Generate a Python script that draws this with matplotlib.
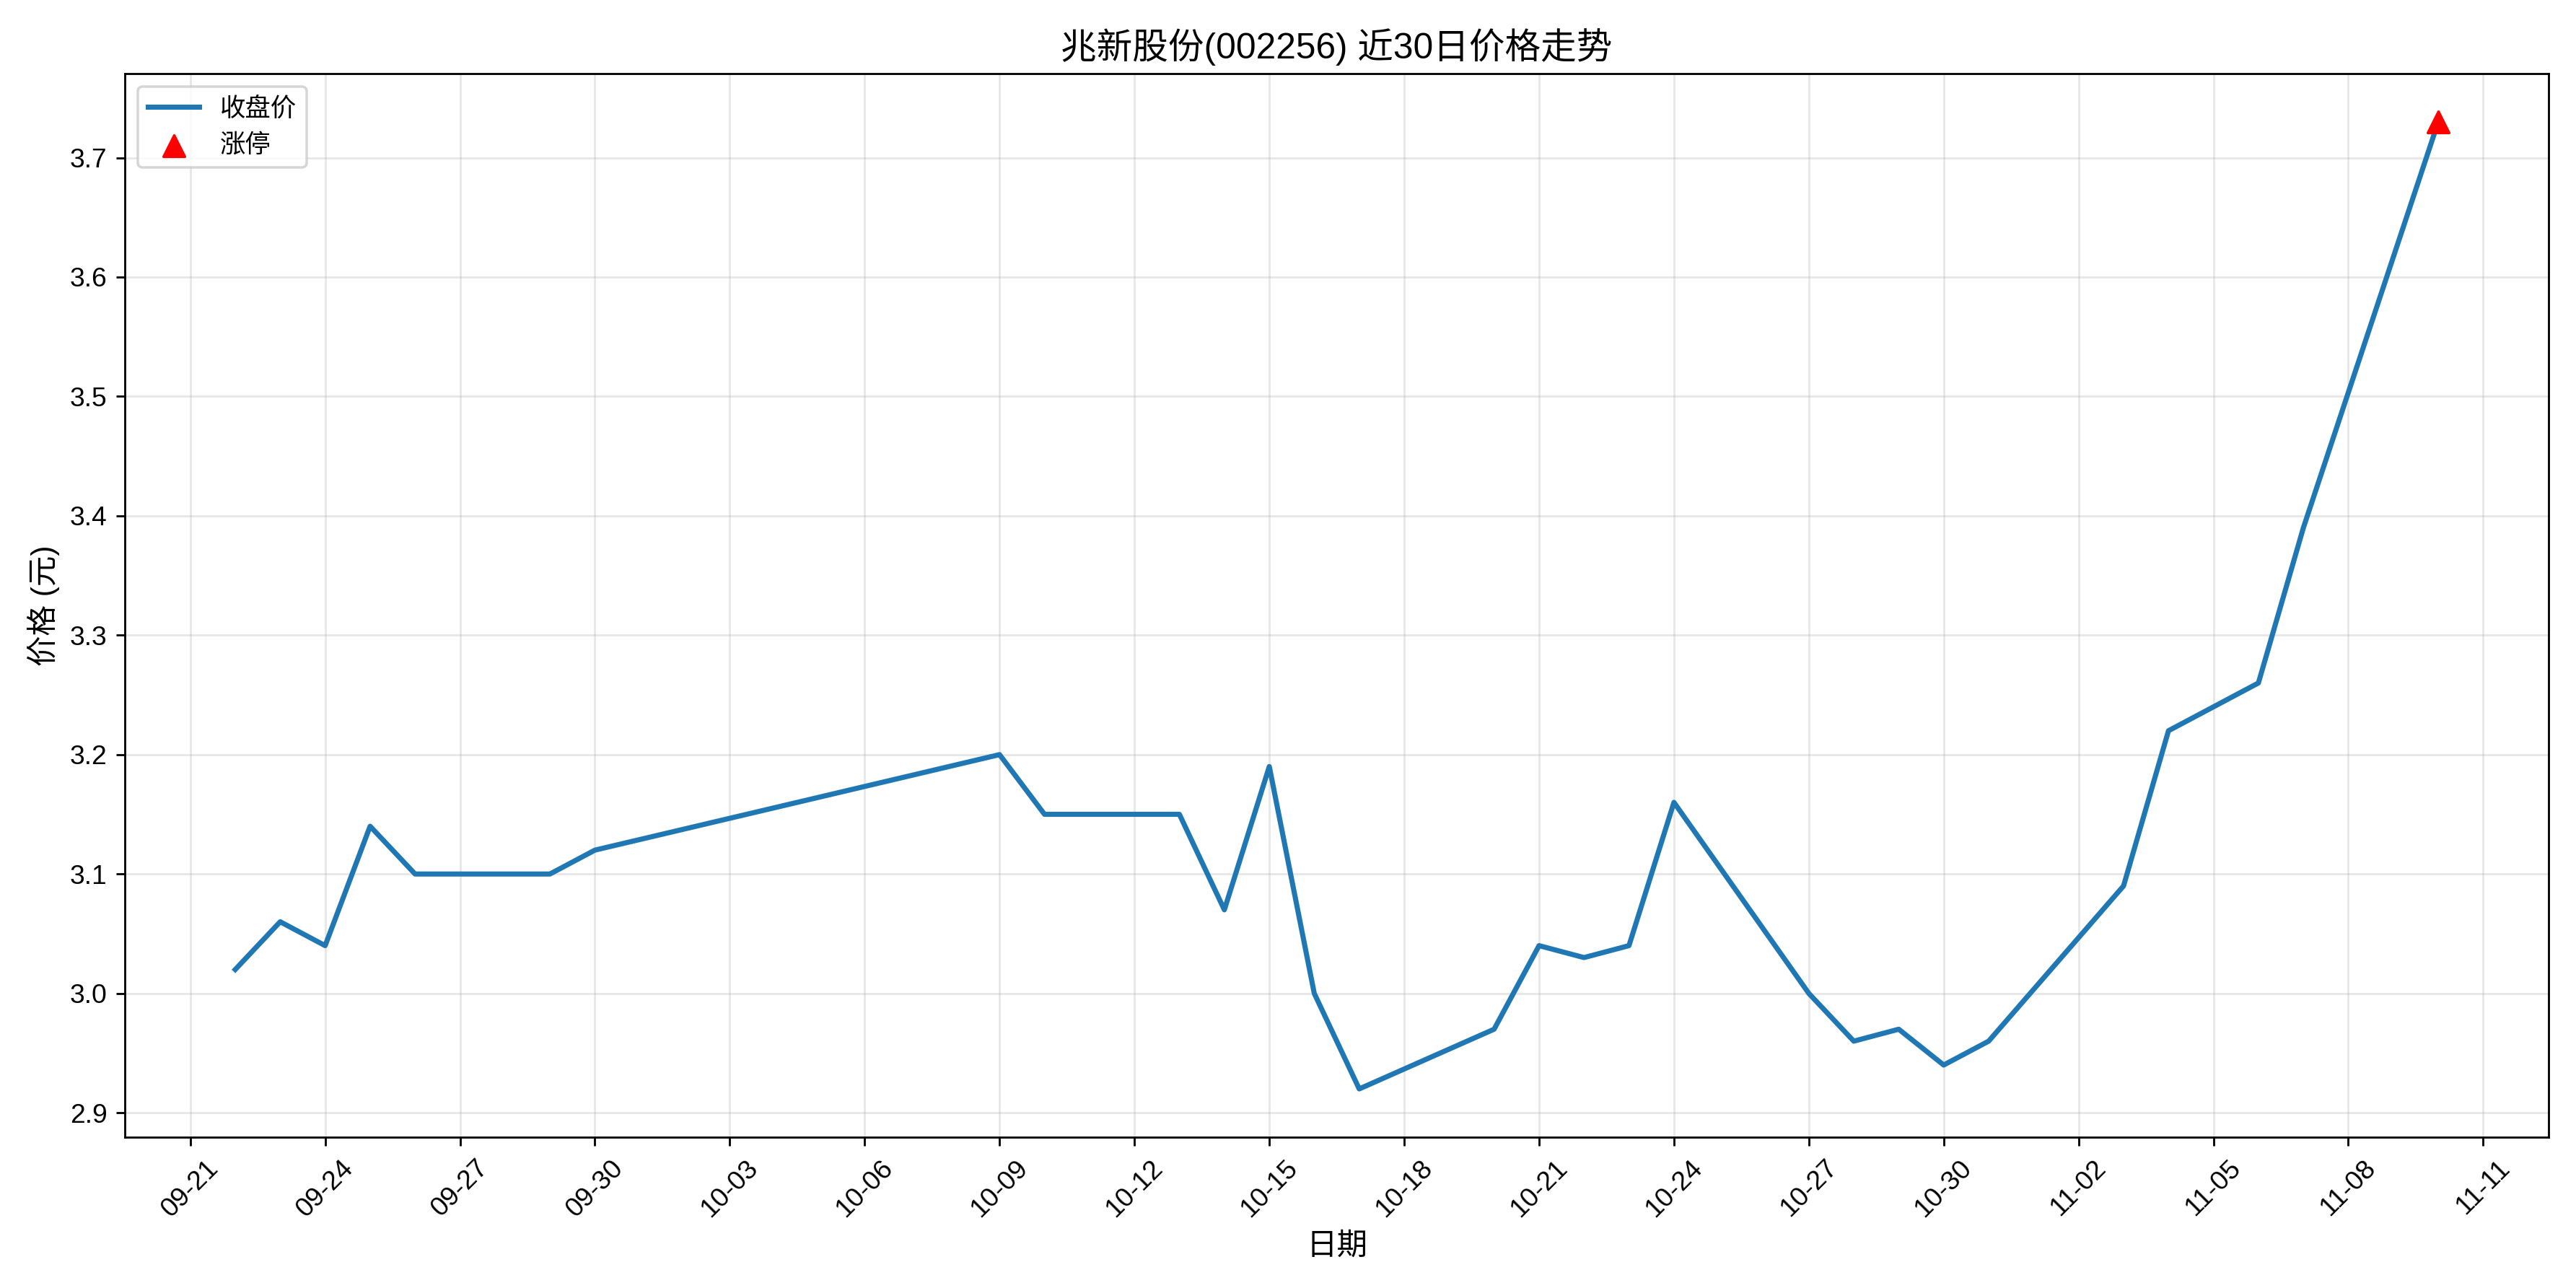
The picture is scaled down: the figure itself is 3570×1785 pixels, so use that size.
import matplotlib
matplotlib.use("Agg")
import matplotlib.pyplot as plt
import matplotlib.dates as mdates
import pandas as pd

plt.rcParams["font.family"] = ["Liberation Sans", "Noto Sans CJK SC", "DejaVu Sans"]
plt.rcParams["axes.unicode_minus"] = False

dates = ["2025-09-22", "2025-09-23", "2025-09-24", "2025-09-25", "2025-09-26",
         "2025-09-29", "2025-09-30", "2025-10-09", "2025-10-10", "2025-10-13",
         "2025-10-14", "2025-10-15", "2025-10-16", "2025-10-17", "2025-10-20",
         "2025-10-21", "2025-10-22", "2025-10-23", "2025-10-24", "2025-10-27",
         "2025-10-28", "2025-10-29", "2025-10-30", "2025-10-31", "2025-11-03",
         "2025-11-04", "2025-11-05", "2025-11-06", "2025-11-07", "2025-11-10"]
close = [3.02, 3.06, 3.04, 3.14, 3.10,
         3.10, 3.12, 3.20, 3.15, 3.15,
         3.07, 3.19, 3.00, 2.92, 2.97,
         3.04, 3.03, 3.04, 3.16, 3.00,
         2.96, 2.97, 2.94, 2.96, 3.09,
         3.22, 3.24, 3.26, 3.39, 3.73]
limit_up_dates = ["2025-11-10"]
limit_up_prices = [3.73]

x = pd.to_datetime(dates)
fig, ax = plt.subplots(figsize=(14, 7))
ax.plot(x, close, color="#1f77b4", linewidth=2, label="收盘价")
ax.scatter(pd.to_datetime(limit_up_dates), limit_up_prices, marker="^",
           color="red", s=70, zorder=5, label="涨停")

ax.set_title("兆新股份(002256) 近30日价格走势", fontsize=14)
ax.set_xlabel("日期", fontsize=12)
ax.set_ylabel("价格 (元)", fontsize=12)
ax.set_xticks(pd.date_range("2025-09-21", "2025-11-11", freq="3D"))
ax.xaxis.set_major_formatter(mdates.DateFormatter("%m-%d"))
ax.tick_params(labelsize=10.5)
plt.setp(ax.get_xticklabels(), rotation=45)
ax.grid(True, alpha=0.3)
ax.legend(loc="upper left")

plt.tight_layout()
fig.savefig("out.png", dpi=255, facecolor="white")
